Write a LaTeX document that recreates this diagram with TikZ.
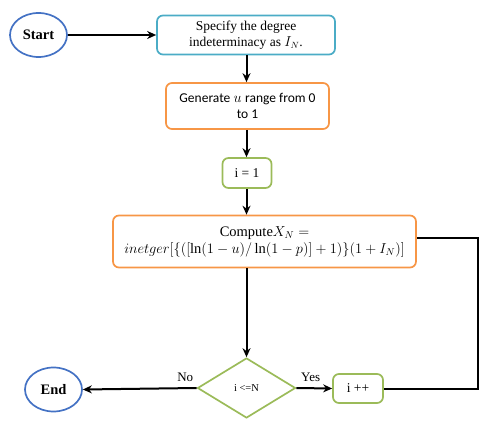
\documentclass[tikz,border=0pt]{standalone}
\usepackage{fontspec}
\setmainfont{Liberation Serif}
\newfontfamily\calib{Carlito}
\usetikzlibrary{shapes.geometric,arrows.meta}
\definecolor{eblue}{RGB}{68,114,196}
\definecolor{ecyan}{RGB}{75,172,198}
\definecolor{eorange}{RGB}{247,150,70}
\definecolor{egreen}{RGB}{155,187,89}
\begin{document}
\begin{tikzpicture}[x=1pt,y=-1pt,
  term/.style={ellipse,draw=eblue,line width=1.7pt,minimum width=57pt,minimum height=44pt,inner sep=0pt,font=\fontsize{14.5}{16}\selectfont\bfseries},
  procbox/.style={rounded corners=6pt,draw,line width=1.7pt,inner sep=0pt,align=center,font=\fontsize{13.5}{15.5}\selectfont},
  arr/.style={-{Stealth[length=9pt,width=8pt]},line width=2pt},
  ln/.style={line width=2pt},
  lbl/.style={font=\fontsize{13}{15}\selectfont}]
\useasboundingbox (0,0) rectangle (492,430);
\node[term] (start) at (38.5,35) {Start};
\node[procbox,draw=ecyan,minimum width=178pt,minimum height=39pt] (spec) at (246,35) {Specify the degree\\indeterminacy as $I_N$.};
\node[procbox,draw=eorange,minimum width=163pt,minimum height=46pt] (gen) at (247.5,106) {{\calib Generate} $u$ {\calib range from 0}\\{\calib to 1}};
\node[procbox,draw=egreen,minimum width=49pt,minimum height=30pt] (i1) at (247,173) {i = 1};
\node[procbox,draw=eorange,minimum width=303pt,minimum height=52pt,font=\fontsize{14.5}{17}\selectfont] (comp) at (264.5,241.5) {Compute$X_N =$\\$inetger[\{([\ln(1-u)/\ln(1-p)]+1)\}(1+I_N)]$};
\node[diamond,draw=egreen,line width=1.7pt,minimum width=98pt,minimum height=60pt,aspect=1.63,inner sep=0pt,font=\fontsize{10.5}{12}\selectfont] (dec) at (246.5,388) {i <=N};
\node[term] (end) at (53.5,389.5) {End};
\node[procbox,draw=egreen,minimum width=50pt,minimum height=29pt] (inc) at (358,388.5) {i ++};
\coordinate (c1) at (478,388.5);
\coordinate (c2) at (478,238);
\coordinate (col) at (246.5,0);
\draw[arr] (start.east) -- (start.east -| spec.west);
\draw[arr] (spec.south -| col) -- (gen.north -| col);
\draw[arr] (gen.south -| col) -- (i1.north -| col);
\draw[arr] (i1.south -| col) -- (comp.north -| col);
\draw[arr] (comp.south -| dec.north) -- (dec.north);
\draw[arr] (dec.west) -- node[lbl,above,pos=0.1,yshift=2pt] {No} (end.east);
\draw[arr] (dec.east) -- node[lbl,above,pos=0.4,yshift=2pt] {Yes} (inc.west);
\draw[ln] (inc.east) -- (c1) -- (c2) -- (comp.east |- c2);
\end{tikzpicture}
\end{document}
